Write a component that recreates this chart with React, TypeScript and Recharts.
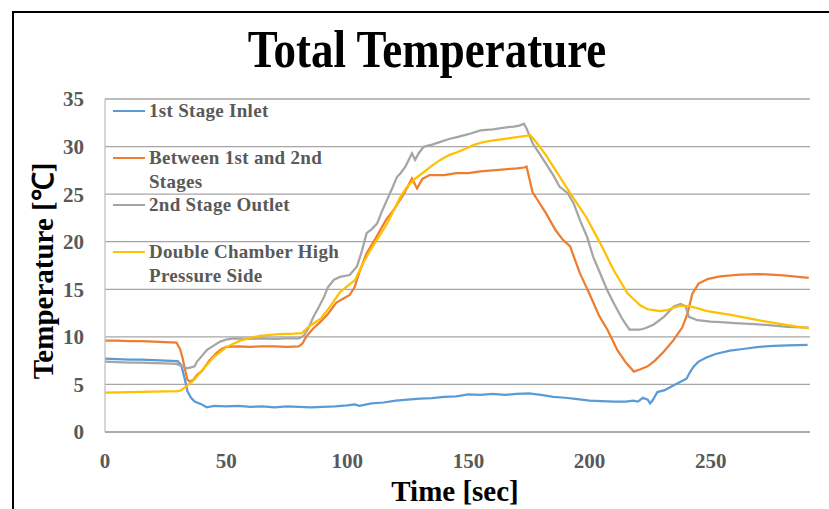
import React from "react";
import { LineChart, Line, XAxis, YAxis, CartesianGrid, Legend } from "recharts";

const SERIF = "'Liberation Serif', 'Times New Roman', serif";

const timeTicks = [0, 50, 100, 150, 200, 250];
const tempTicks = [0, 5, 10, 15, 20, 25, 30, 35];

// 1st Stage Inlet
const inletTime = [0, 5, 10, 15, 20, 25, 30, 31.5, 33, 34, 35.5, 37, 40, 42, 45, 50, 55, 60, 65, 70, 75, 80, 85, 90, 95, 100, 103, 105, 110, 115, 120, 125, 130, 135, 140, 145, 150, 155, 160, 165, 170, 175, 180, 185, 190, 195, 200, 205, 210, 215, 218, 220, 222, 224, 225, 226, 228, 231, 234, 237, 240, 241.5, 243, 245, 248, 252, 258, 264, 270, 276, 282, 290];
const inletTemp = [7.7, 7.65, 7.6, 7.6, 7.55, 7.5, 7.45, 7.0, 5.5, 4.3, 3.6, 3.2, 2.9, 2.6, 2.75, 2.7, 2.75, 2.65, 2.7, 2.6, 2.7, 2.65, 2.6, 2.65, 2.7, 2.8, 2.9, 2.75, 3.0, 3.1, 3.3, 3.4, 3.5, 3.55, 3.7, 3.75, 3.95, 3.9, 4.0, 3.9, 4.0, 4.05, 3.9, 3.7, 3.6, 3.45, 3.3, 3.25, 3.2, 3.2, 3.3, 3.2, 3.6, 3.4, 3.0, 3.3, 4.2, 4.4, 4.8, 5.2, 5.6, 6.3, 6.9, 7.4, 7.8, 8.2, 8.55, 8.75, 8.95, 9.05, 9.1, 9.15];

// Between 1st and 2nd Stages
const betweenTime = [0, 5, 10, 15, 20, 25, 29.5, 31, 32, 33, 34, 35, 36.5, 38, 40, 43, 46, 48, 50, 55, 60, 65, 70, 75, 80, 81.5, 83, 86, 89, 92, 95.5, 99, 101, 103, 105, 108, 112, 116, 119, 123, 125, 126.7, 128.8, 131, 134, 140, 145, 150, 155, 160, 165, 170, 173, 174, 176.5, 179, 182, 186, 189, 192, 196, 200, 204, 207.5, 211.5, 215, 218.3, 221, 224, 227, 230.5, 234.5, 238.3, 240.4, 242.4, 245, 249, 254, 262, 270, 280, 290.5];
const betweenTemp = [9.6, 9.6, 9.55, 9.55, 9.5, 9.45, 9.4, 8.7, 7.8, 6.6, 5.5, 5.3, 5.5, 6.0, 6.4, 7.5, 8.3, 8.7, 8.95, 9.0, 8.95, 9.0, 9.0, 8.95, 9.0, 9.3, 10.0, 10.9, 11.6, 12.4, 13.6, 14.1, 14.4, 15.2, 16.8, 18.8, 20.5, 22.3, 23.3, 24.9, 25.8, 26.65, 25.6, 26.6, 27.0, 27.0, 27.2, 27.2, 27.4, 27.5, 27.6, 27.7, 27.8, 27.9, 25.2, 24.2, 23.0, 21.2, 20.2, 19.5, 16.7, 14.5, 12.2, 10.7, 8.6, 7.3, 6.35, 6.6, 6.9, 7.5, 8.4, 9.6, 11.0, 12.4, 14.5, 15.6, 16.1, 16.35, 16.55, 16.6, 16.45, 16.2];

// 2nd Stage Outlet
const outletTime = [0, 5, 10, 15, 20, 25, 29.5, 31, 32.5, 34, 35.5, 37, 38, 40, 42, 45, 47.5, 50, 53, 60, 65, 70, 75, 80, 82, 84, 86, 88, 90.4, 92, 94.5, 97, 101, 104, 106, 108, 110, 112.3, 114, 116.4, 118.5, 120.5, 122, 124, 126.7, 128, 129.5, 131.5, 135, 138.4, 142, 145.3, 150, 155, 160, 165, 168.7, 171, 172.9, 174, 176.6, 179, 182, 185, 187.6, 191, 193.5, 196, 199, 201.5, 204.5, 207.3, 210.5, 213.7, 216.5, 220.6, 223, 226.5, 230.7, 234.8, 237.6, 239.7, 241, 244.5, 250, 254, 260, 268, 275, 281.7, 290.5];
const outletTemp = [7.4, 7.35, 7.3, 7.3, 7.25, 7.2, 7.15, 7.0, 6.85, 6.7, 6.8, 6.9, 7.4, 8.0, 8.6, 9.1, 9.5, 9.7, 9.85, 9.8, 9.85, 9.8, 9.85, 9.85, 10.1, 10.9, 12.1, 13.0, 14.2, 15.2, 16.0, 16.3, 16.5, 17.4, 19.0, 20.9, 21.3, 21.9, 23.0, 24.4, 25.6, 26.8, 27.2, 27.9, 29.3, 28.6, 29.3, 29.97, 30.2, 30.5, 30.8, 31.0, 31.3, 31.7, 31.8, 32.0, 32.1, 32.2, 32.4, 31.9, 30.3, 29.4, 28.2, 27.0, 25.8, 25.1, 24.0, 22.3, 20.5, 18.4, 16.6, 14.9, 13.3, 11.8, 10.75, 10.75, 10.9, 11.3, 12.1, 13.2, 13.45, 13.2, 12.1, 11.75, 11.6, 11.55, 11.45, 11.35, 11.2, 11.06, 10.96];

// Double Chamber High Pressure Side
const chamberTime = [0, 10, 20, 30, 31.5, 33.8, 36.6, 40.8, 45, 50.3, 55.8, 60, 64, 72, 78, 81.3, 83.3, 86, 89, 93, 97, 103.3, 106, 109.5, 113, 116.4, 119, 121.9, 124.5, 127.4, 131.5, 135, 138.4, 142, 145.3, 149, 152, 155, 159, 165, 170, 175.6, 178.5, 182, 187, 192, 198.6, 204.5, 210, 215.6, 218, 221, 224, 226.5, 229, 232, 235, 237.6, 241.7, 248.6, 258.3, 270.7, 281.7, 290.5];
const chamberTemp = [4.15, 4.2, 4.25, 4.3, 4.4, 4.85, 5.45, 6.7, 7.9, 8.95, 9.6, 9.9, 10.1, 10.3, 10.35, 10.4, 10.9, 11.4, 11.9, 13.2, 14.7, 16.0, 17.5, 19.1, 20.5, 21.9, 23.2, 24.7, 25.7, 26.5, 27.3, 28.0, 28.6, 29.1, 29.4, 29.8, 30.15, 30.4, 30.6, 30.8, 31.0, 31.2, 30.3, 29.1, 27.1, 25.1, 22.6, 19.8, 17.0, 14.6, 14.0, 13.3, 12.9, 12.8, 12.7, 12.8, 13.1, 13.27, 13.2, 12.7, 12.3, 11.7, 11.24, 10.9];

const toPoints = (times: number[], temps: number[]) =>
  times.map((time, i) => ({ time, temp: temps[i] }));

const series = [
  { name: "1st Stage Inlet", color: "#5B9BD5", data: toPoints(inletTime, inletTemp) },
  { name: "Between 1st and 2nd Stages", color: "#ED7D31", data: toPoints(betweenTime, betweenTemp) },
  { name: "2nd Stage Outlet", color: "#A5A5A5", data: toPoints(outletTime, outletTemp) },
  { name: "Double Chamber High Pressure Side", color: "#FFC000", data: toPoints(chamberTime, chamberTemp) },
];

const tickStyle = { fill: "#595959", fontSize: 21, fontWeight: "bold" as const, fontFamily: SERIF };

const renderLegend = () => (
  <div style={{ width: 260 }}>
    {series.map((s) => (
      <div key={s.name} style={{ position: "relative", height: 47 }}>
        {/* line marker */}
        <div
          style={{
            position: "absolute",
            left: 0,
            top: 11,
            width: 32,
            borderTop: `2.25px solid ${s.color}`,
          }}
        />
        <div
          style={{
            position: "absolute",
            left: 36,
            top: 0,
            width: 205,
            fontFamily: SERIF,
            fontWeight: "bold",
            fontSize: 19,
            letterSpacing: "0.3px",
            lineHeight: "23.5px",
            color: "#595959",
          }}
        >
          {s.name}
        </div>
      </div>
    ))}
  </div>
);

export default function App() {
  return (
    <div
      style={{
        position: "absolute",
        left: 0,
        top: 0,
        width: 829,
        height: 509,
        background: "#fff",
        overflow: "hidden",
      }}
    >
      <LineChart width={829} height={509} margin={{ top: 99, right: 19, bottom: 47, left: 45 }}>
        <CartesianGrid vertical={false} stroke="#a6a6a6" strokeWidth={1.3} />
        <XAxis
          dataKey="time"
          type="number"
          domain={[0, 291]}
          ticks={timeTicks}
          interval={0}
          height={30}
          tick={tickStyle}
          tickLine={false}
          tickMargin={15}
          axisLine={{ stroke: "#a6a6a6", strokeWidth: 1.3 }}
          allowDataOverflow
        />
        <YAxis
          type="number"
          domain={[0, 35]}
          ticks={tempTicks}
          interval={0}
          width={60}
          tick={tickStyle}
          tickLine={false}
          tickMargin={15}
          axisLine={{ stroke: "#c0c0c0", strokeWidth: 1.3 }}
        />
        <Legend
          layout="vertical"
          align="center"
          verticalAlign="middle"
          wrapperStyle={{ left: 113, top: 99, width: 260 }}
          content={renderLegend}
        />
        {series.map((s) => (
          <Line
            key={s.name}
            data={s.data}
            dataKey="temp"
            name={s.name}
            type="linear"
            stroke={s.color}
            strokeWidth={2.25}
            dot={false}
            activeDot={false}
            isAnimationActive={false}
          />
        ))}
      </LineChart>

      {/* frame, title and axis titles */}
      <svg
        width={829}
        height={509}
        style={{ position: "absolute", left: 0, top: 0, pointerEvents: "none" }}
      >
        <path d="M13,509 L13,12 L829,12" fill="none" stroke="#000" strokeWidth={2} />
        <text
          transform="translate(427,67) scale(0.865,1)"
          textAnchor="middle"
          fontFamily={SERIF}
          fontWeight="bold"
          fontSize={52}
          fill="#000"
        >
          Total Temperature
        </text>
        <text
          x={455}
          y={501}
          textAnchor="middle"
          fontFamily={SERIF}
          fontWeight="bold"
          fontSize={29}
          fill="#000"
        >
          Time [sec]
        </text>
        <text
          transform="translate(53,271) rotate(-90)"
          textAnchor="middle"
          fontFamily={SERIF}
          fontWeight="bold"
          fontSize={29}
          fill="#000"
        >
          Temperature [℃]
        </text>
      </svg>
    </div>
  );
}
